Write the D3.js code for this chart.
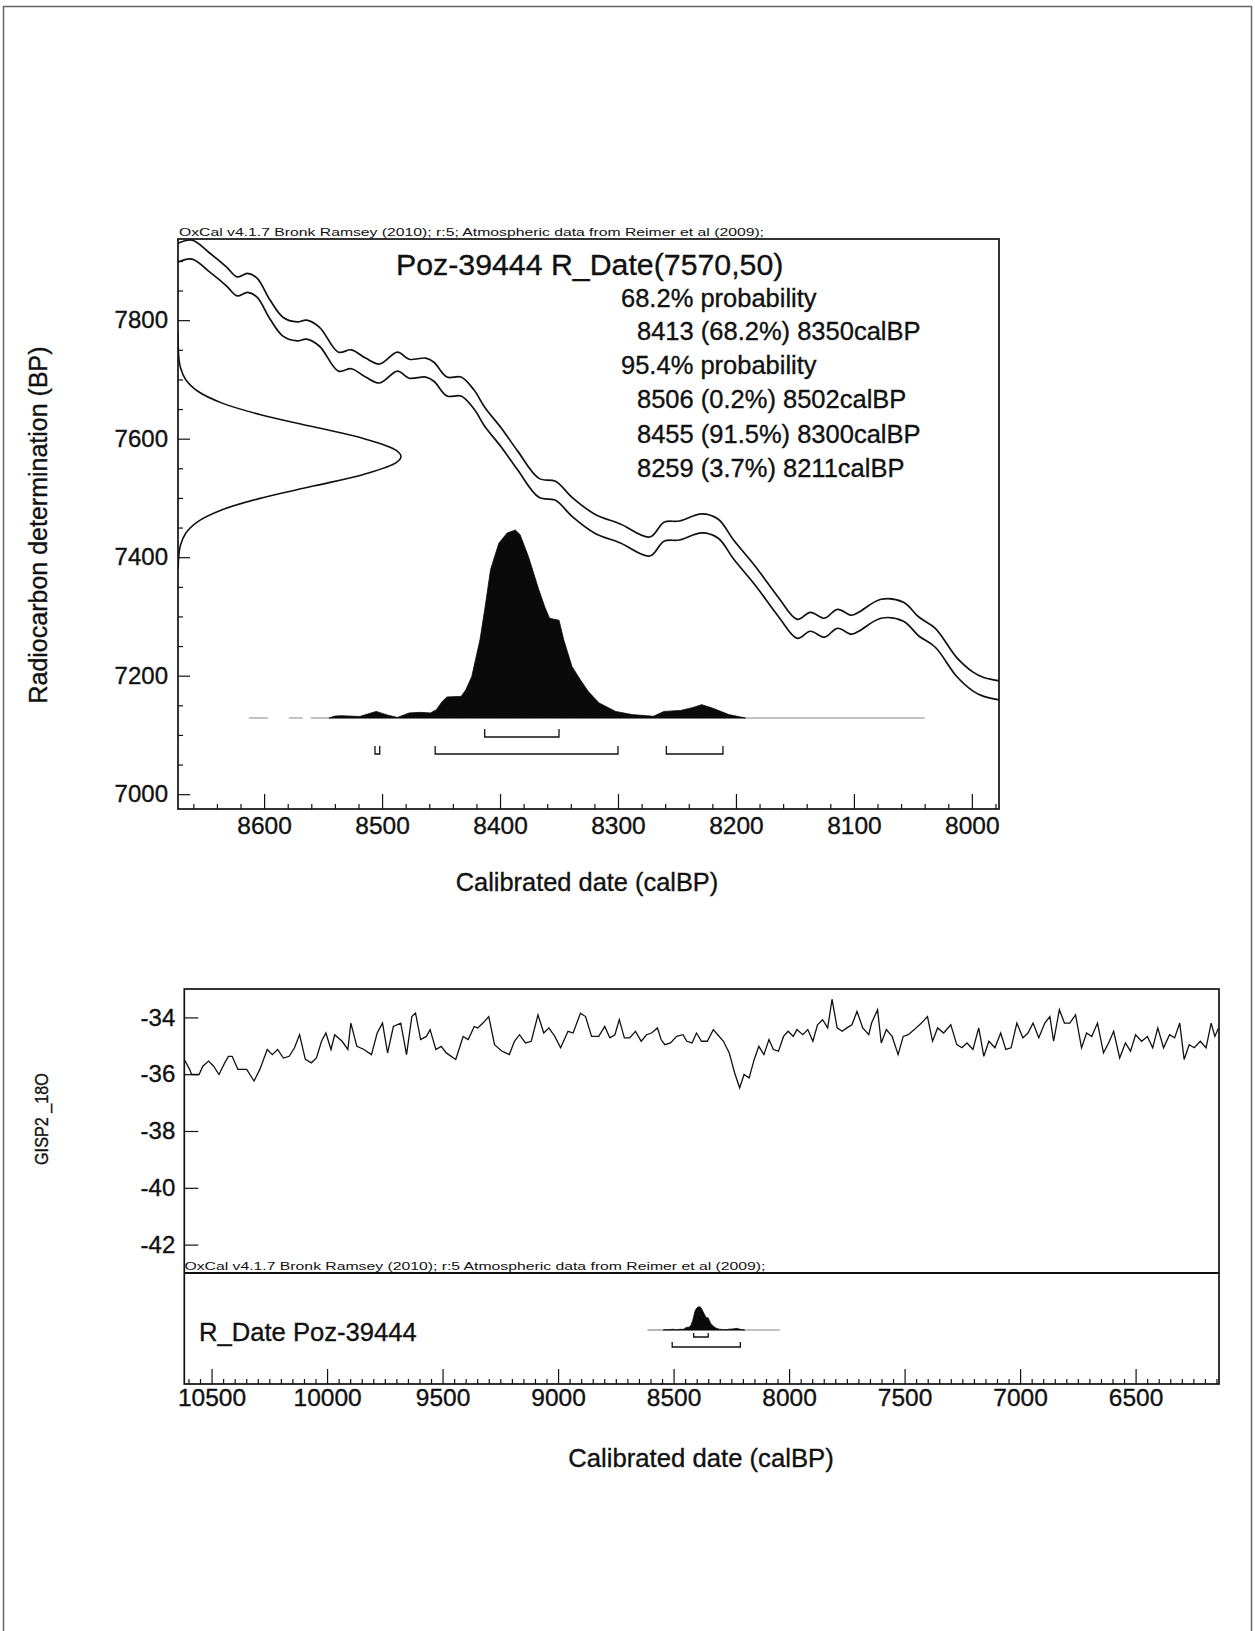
<!DOCTYPE html>
<html>
<head>
<meta charset="utf-8">
<script src="https://cdn.jsdelivr.net/npm/d3@7"></script>
<style>
  body { margin: 0; background: #fff; }
  text { font-family: "Liberation Sans", Arial, Helvetica, sans-serif; fill: #111; }
  .heavy { stroke: #111; stroke-width: 0.35px; }
</style>
</head>
<body>
<svg id="fig" width="1255" height="1631"></svg>
<script>
// ---- Calibration curve segment (cal BP, mean 14C BP, 1-sigma) ----
const curveCal = [8680, 8673, 8661, 8646, 8632, 8623, 8614, 8606, 8595, 8584, 8572, 8564, 8553, 8537, 8526, 8514, 8502, 8487, 8477, 8463, 8456, 8445, 8433, 8422, 8413, 8399, 8385, 8367, 8353, 8339, 8320, 8298, 8273, 8261, 8248, 8229, 8215, 8202, 8183, 8164, 8148, 8137, 8125, 8114, 8102, 8096, 8077, 8058, 8045, 8031, 8013, 7999, 7990, 7979, 7970];
const curveBP  = [7905, 7914, 7919, 7897, 7874, 7857, 7863, 7855, 7818, 7789, 7781, 7784, 7772, 7730, 7734, 7720, 7710, 7730, 7718, 7720, 7713, 7688, 7688, 7666, 7637, 7602, 7563, 7517, 7512, 7485, 7457, 7440, 7418, 7443, 7445, 7457, 7448, 7413, 7367, 7316, 7279, 7291, 7281, 7296, 7286, 7291, 7313, 7308, 7283, 7264, 7215, 7190, 7181, 7176, 7172];
const curveSigma = [16, 16, 16, 16, 16, 16, 16, 16, 16, 16, 16, 16, 16, 16, 16, 16, 16, 16, 16, 16, 16, 16, 16, 16, 16, 16, 16, 16, 16, 16, 16, 16, 16, 16, 16, 16, 16, 16, 16, 16, 16, 16, 16, 16, 16, 16, 16, 16, 16, 16, 16, 16, 16, 16, 16];

// ---- Radiocarbon measurement ----
const sampleName = "Poz-39444";
const dateBP = 7570;
const dateErr = 50;
// likelihood of the measurement, relative height at 14C BP
const likeBP = [7380, 7400, 7420, 7440, 7460, 7480, 7500, 7520, 7540, 7560, 7570, 7580, 7600, 7620, 7640, 7660, 7680, 7700, 7720, 7740, 7760, 7780];
const likeP  = [0.001, 0.003, 0.011, 0.034, 0.089, 0.198, 0.375, 0.607, 0.835, 0.980, 1.0, 0.980, 0.835, 0.607, 0.375, 0.198, 0.089, 0.034, 0.011, 0.003, 0.001, 0.0];

// ---- Calibrated probability distribution (relative) ----
const probCal = [8545, 8540, 8535, 8527, 8519, 8505, 8495, 8487, 8477, 8468, 8459, 8454, 8449, 8445, 8433, 8429, 8424, 8417, 8413, 8408, 8401, 8394, 8387, 8383, 8376, 8367, 8362, 8358, 8350, 8346, 8339, 8332, 8325, 8316, 8302, 8288, 8270, 8261, 8247, 8237, 8229, 8220, 8206, 8192];
const probP   = [0, 0.010, 0.012, 0.010, 0.008, 0.035, 0.015, 0.003, 0.027, 0.030, 0.027, 0.044, 0.088, 0.112, 0.115, 0.150, 0.220, 0.416, 0.576, 0.790, 0.930, 0.984, 1.0, 0.975, 0.860, 0.680, 0.590, 0.530, 0.520, 0.416, 0.274, 0.204, 0.140, 0.080, 0.035, 0.018, 0.009, 0.035, 0.040, 0.055, 0.071, 0.053, 0.018, 0];
const baselineCal = [8613, 8040];

// ---- Highest probability ranges ----
const ranges68 = [[8413, 8350]];
const ranges95 = [[8506, 8502], [8455, 8300], [8259, 8211]];
// overall 95.4% span as drawn in the compact strip
const span95 = [[8506, 8211]];
const summaryText = [
  "68.2% probability",
  "8413 (68.2%) 8350calBP",
  "95.4% probability",
  "8506 (0.2%) 8502calBP",
  "8455 (91.5%) 8300calBP",
  "8259 (3.7%) 8211calBP"
];

// ---- GISP2 delta 18O (per mil) against cal BP ----
const gispCal = [10618, 10595, 10586, 10554, 10538, 10513, 10491, 10468, 10443, 10427, 10411, 10386, 10364, 10348, 10316, 10291, 10259, 10237, 10214, 10189, 10164, 10141, 10119, 10094, 10068, 10046, 10024, 10005, 9983, 9967, 9935, 9910, 9897, 9871, 9840, 9808, 9783, 9760, 9738, 9713, 9681, 9656, 9633, 9617, 9595, 9570, 9554, 9529, 9506, 9484, 9443, 9411, 9389, 9363, 9348, 9325, 9300, 9275, 9243, 9211, 9189, 9167, 9141, 9116, 9087, 9062, 9040, 9014, 8989, 8957, 8935, 8903, 8881, 8855, 8824, 8798, 8776, 8754, 8735, 8713, 8690, 8665, 8640, 8617, 8595, 8570, 8554, 8538, 8513, 8487, 8459, 8443, 8420, 8401, 8379, 8354, 8328, 8309, 8284, 8259, 8236, 8214, 8195, 8173, 8151, 8131, 8109, 8087, 8068, 8046, 8024, 8004, 7982, 7966, 7941, 7919, 7897, 7877, 7855, 7833, 7814, 7792, 7770, 7750, 7728, 7706, 7681, 7655, 7643, 7617, 7601, 7579, 7554, 7528, 7506, 7484, 7458, 7427, 7401, 7379, 7357, 7331, 7300, 7274, 7252, 7230, 7204, 7179, 7157, 7135, 7109, 7084, 7062, 7039, 7014, 6988, 6966, 6944, 6919, 6893, 6871, 6855, 6830, 6808, 6785, 6760, 6734, 6712, 6690, 6665, 6639, 6617, 6595, 6569, 6544, 6522, 6500, 6474, 6449, 6426, 6404, 6379, 6353, 6331, 6309, 6290, 6268, 6246, 6220, 6195, 6173, 6157, 6141];
const gispD18O = [-35.48, -35.83, -36.01, -36.01, -35.72, -35.54, -35.72, -36.01, -35.60, -35.37, -35.37, -35.83, -35.83, -35.83, -36.24, -35.83, -35.13, -35.31, -35.13, -35.43, -35.37, -35.07, -34.61, -35.48, -35.60, -35.43, -34.84, -34.55, -35.13, -34.61, -34.84, -35.13, -34.20, -35.02, -35.13, -35.31, -34.55, -34.20, -35.25, -34.32, -34.20, -35.31, -33.97, -33.85, -34.78, -34.67, -34.43, -35.13, -35.02, -35.25, -35.48, -34.67, -34.78, -34.32, -34.37, -34.20, -33.97, -34.96, -35.19, -35.31, -34.84, -34.61, -34.90, -34.84, -33.91, -34.55, -34.37, -34.67, -35.07, -34.49, -34.55, -33.85, -33.97, -34.67, -34.67, -34.32, -34.72, -34.61, -34.08, -34.72, -34.72, -34.49, -34.84, -34.61, -34.55, -34.37, -34.78, -34.96, -34.90, -34.67, -34.61, -34.84, -34.90, -34.55, -34.84, -34.84, -34.43, -34.61, -34.84, -35.25, -35.95, -36.48, -36.01, -36.13, -35.48, -35.02, -35.31, -34.78, -35.13, -35.19, -34.67, -34.49, -34.67, -34.43, -34.61, -34.43, -34.84, -34.26, -34.08, -34.37, -33.36, -34.37, -34.49, -34.37, -34.26, -33.79, -34.37, -34.61, -34.20, -33.73, -34.90, -34.43, -34.67, -35.31, -34.67, -34.61, -34.43, -34.20, -33.97, -34.84, -34.37, -34.55, -34.26, -34.96, -35.07, -34.90, -35.13, -34.37, -35.37, -34.84, -35.07, -34.55, -35.13, -35.07, -34.20, -34.72, -34.55, -34.20, -34.72, -34.20, -33.97, -34.84, -33.73, -34.20, -34.20, -33.91, -35.07, -34.55, -34.67, -34.20, -35.25, -34.90, -34.49, -35.43, -34.90, -35.19, -34.61, -34.84, -34.67, -35.07, -34.37, -35.07, -34.61, -34.72, -34.20, -35.48, -34.96, -35.07, -34.84, -35.07, -34.20, -34.67, -34.37];

// ---- Axis ticks ----
const calTicksTop = [8600, 8500, 8400, 8300, 8200, 8100, 8000];
const bpTicks = [7000, 7200, 7400, 7600, 7800];
const calTicksBottom = [10500, 10000, 9500, 9000, 8500, 8000, 7500, 7000, 6500];
const d18OTicks = [-34, -36, -38, -40, -42];

const headerTop = "OxCal v4.1.7 Bronk Ramsey (2010); r:5; Atmospheric data from Reimer et al (2009);";
const headerBottom = "OxCal v4.1.7 Bronk Ramsey (2010); r:5 Atmospheric data from Reimer et al (2009);";

const svg = d3.select("#fig");
const plain = d => String(d);

// page border (open at the bottom)
svg.append("path").attr("d", "M3.5,1631V6.5H1251.5V1631")
  .attr("fill", "none").attr("stroke", "#666").attr("stroke-width", 1.5);

// ================= Calibration plot =================
const P1 = { left: 178, right: 999, top: 239, bottom: 809 };
const x1 = d3.scaleLinear().domain([8673, 7977]).range([P1.left, P1.right]);
const y1 = d3.scaleLinear().domain([6975, 7937]).range([P1.bottom, P1.top]);
const g1 = svg.append("g");

g1.append("clipPath").attr("id", "clip1").append("rect")
  .attr("x", P1.left).attr("y", P1.top).attr("width", P1.right - P1.left).attr("height", P1.bottom - P1.top);

const curvePts = curveCal.map((c, i) => ({ c, m: curveBP[i], s: curveSigma[i] }));
const bandLine = off => d3.line().x(d => x1(d.c)).y(d => y1(d.m + off * d.s)).curve(d3.curveCatmullRom.alpha(0.5));
[1, -1].forEach(k => {
  g1.append("path").datum(curvePts).attr("d", bandLine(k)).attr("clip-path", "url(#clip1)")
    .attr("fill", "none").attr("stroke", "#111").attr("stroke-width", 1.7);
});

// measurement likelihood on the BP axis
const xLike = d3.scaleLinear().domain([0, 1]).range([P1.left, 401]);
g1.append("path").datum(likeBP.map((b, i) => [b, likeP[i]]))
  .attr("d", d3.line().x(d => xLike(d[1])).y(d => y1(d[0])).curve(d3.curveCatmullRom))
  .attr("clip-path", "url(#clip1)")
  .attr("fill", "none").attr("stroke", "#111").attr("stroke-width", 1.6);

// calibrated distribution
const pScale1 = d3.scaleLinear().domain([0, 1]).range([718, 530]);
function drawDistribution(g, xs, ps, baseCal) {
  g.append("line").attr("x1", xs(probCal[0])).attr("x2", xs(baseCal[1]))
    .attr("y1", ps(0)).attr("y2", ps(0)).attr("stroke", "#888").attr("stroke-width", 1.2);
  g.append("line").attr("x1", xs(baseCal[0])).attr("x2", xs(probCal[0]))
    .attr("y1", ps(0)).attr("y2", ps(0)).attr("stroke", "#888").attr("stroke-width", 1.2)
    .attr("stroke-dasharray", "19,21,14,8,22");
  g.append("path").datum(probCal.map((c, i) => [c, probP[i]]))
    .attr("d", d3.area().x(d => xs(d[0])).y0(ps(0)).y1(d => ps(d[1])))
    .attr("fill", "#0a0a0a").attr("stroke", "#0a0a0a").attr("stroke-width", 0.8);
}
drawDistribution(g1, x1, pScale1, baselineCal);

function drawRanges(g, xs, list, y, tick) {
  list.forEach(r => {
    const a = xs(r[0]), b = xs(r[1]);
    g.append("path").attr("d", `M${a},${y - tick}V${y}H${b}V${y - tick}`)
      .attr("fill", "none").attr("stroke", "#111").attr("stroke-width", 1.3);
  });
}
drawRanges(g1, x1, ranges68, 737, 8);
drawRanges(g1, x1, ranges95, 754, 8);

// frame
g1.append("rect").attr("x", P1.left).attr("y", P1.top).attr("width", P1.right - P1.left).attr("height", P1.bottom - P1.top)
  .attr("fill", "none").attr("stroke", "#111").attr("stroke-width", 1.7);

// axes
const ax1 = g1.append("g").attr("transform", `translate(0,${P1.bottom})`)
  .call(d3.axisBottom(x1).tickValues(calTicksTop).tickSize(-15).tickPadding(8).tickFormat(plain));
const minorTop = d3.range(8660, 7977, -20).filter(v => v % 100 !== 0);
g1.append("g").attr("transform", `translate(0,${P1.bottom})`)
  .call(d3.axisBottom(x1).tickValues(minorTop).tickSize(-5).tickFormat(""));
const ay1 = g1.append("g").attr("transform", `translate(${P1.left},0)`)
  .call(d3.axisLeft(y1).tickValues(bpTicks).tickSize(-12).tickPadding(10).tickFormat(plain));
const minorBP = d3.range(7050, 7937, 50).filter(v => v % 200 !== 0);
g1.append("g").attr("transform", `translate(${P1.left},0)`)
  .call(d3.axisLeft(y1).tickValues(minorBP).tickSize(-5).tickFormat(""));

svg.selectAll(".domain").remove();
svg.selectAll(".tick line").attr("stroke", "#111").attr("stroke-width", 1.2);
ax1.selectAll("text").attr("font-size", 24.5).attr("fill", "#111").attr("class", "heavy");
ay1.selectAll("text").attr("font-size", 24).attr("fill", "#111").attr("class", "heavy");

// texts
g1.append("text").attr("x", 179).attr("y", 236).attr("font-size", 11.5)
  .attr("textLength", 585).attr("lengthAdjust", "spacingAndGlyphs").text(headerTop);
g1.append("text").attr("x", 396).attr("y", 275).attr("font-size", 30.3).attr("class", "heavy")
  .text(`${sampleName} R_Date(${dateBP},${dateErr})`);
const sumX = [621, 637, 621, 637, 637, 637];
const sumY = [307, 340, 374, 408, 443, 477];
summaryText.forEach((t, i) => {
  g1.append("text").attr("x", sumX[i]).attr("y", sumY[i]).attr("font-size", 25.5).attr("class", "heavy").text(t);
});
g1.append("text").attr("transform", "translate(47,525) rotate(-90)").attr("text-anchor", "middle")
  .attr("font-size", 25).attr("class", "heavy").text("Radiocarbon determination (BP)");
g1.append("text").attr("x", 587).attr("y", 891).attr("text-anchor", "middle")
  .attr("font-size", 25.4).attr("class", "heavy").text("Calibrated date (calBP)");

// ================= GISP2 + multi-plot =================
const P2 = { left: 184.3, right: 1219, top: 989, split: 1273, bottom: 1384 };
const x2 = d3.scaleLinear().domain([10618, 6139]).range([P2.left, P2.right]);
const y2 = d3.scaleLinear().domain([-43, -33]).range([P2.split, P2.top]);
const g2 = svg.append("g");

g2.append("clipPath").attr("id", "clip2").append("rect")
  .attr("x", P2.left).attr("y", P2.top).attr("width", P2.right - P2.left).attr("height", P2.split - P2.top);

g2.append("path").datum(gispCal.map((c, i) => [c, gispD18O[i]]))
  .attr("d", d3.line().x(d => x2(d[0])).y(d => y2(d[1])))
  .attr("clip-path", "url(#clip2)")
  .attr("fill", "none").attr("stroke", "#111").attr("stroke-width", 1.3);

// small distribution in the lower strip
const pScale2 = d3.scaleLinear().domain([0, 1]).range([1330, 1306.7]);
drawDistribution(g2, x2, pScale2, baselineCal);
drawRanges(g2, x2, ranges68, 1337, 4);
drawRanges(g2, x2, span95, 1347, 5);

g2.append("rect").attr("x", P2.left).attr("y", P2.top).attr("width", P2.right - P2.left).attr("height", P2.bottom - P2.top)
  .attr("fill", "none").attr("stroke", "#111").attr("stroke-width", 1.7);
g2.append("line").attr("x1", P2.left).attr("x2", P2.right).attr("y1", P2.split).attr("y2", P2.split)
  .attr("stroke", "#111").attr("stroke-width", 2.2);

const ax2 = g2.append("g").attr("transform", `translate(0,${P2.bottom})`)
  .call(d3.axisBottom(x2).tickValues(calTicksBottom).tickSize(-15).tickPadding(5).tickFormat(plain));
const minorBottom = d3.range(10600, 6139, -50).filter(v => v % 500 !== 0);
g2.append("g").attr("transform", `translate(0,${P2.bottom})`)
  .call(d3.axisBottom(x2).tickValues(minorBottom).tickSize(-5).tickFormat(""));
const ay2 = g2.append("g").attr("transform", `translate(${P2.left},0)`)
  .call(d3.axisLeft(y2).tickValues(d18OTicks).tickSize(-14).tickPadding(9).tickFormat(plain));

svg.selectAll(".domain").remove();
svg.selectAll(".tick line").attr("stroke", "#111").attr("stroke-width", 1.2);
ax2.selectAll("text").attr("font-size", 24.5).attr("fill", "#111").attr("class", "heavy");
ay2.selectAll("text").attr("font-size", 24).attr("fill", "#111").attr("class", "heavy");

g2.append("text").attr("x", 184.5).attr("y", 1270).attr("font-size", 11.5)
  .attr("textLength", 581).attr("lengthAdjust", "spacingAndGlyphs").text(headerBottom);
g2.append("text").attr("x", 199).attr("y", 1341).attr("font-size", 25.6).attr("class", "heavy").text(`R_Date ${sampleName}`);
g2.append("text").attr("transform", "translate(48,1119) rotate(-90)").attr("text-anchor", "middle")
  .attr("font-size", 19).attr("textLength", 92).attr("lengthAdjust", "spacingAndGlyphs")
  .attr("class", "heavy").text("GISP2 _18O");
g2.append("text").attr("x", 701).attr("y", 1467).attr("text-anchor", "middle")
  .attr("font-size", 25.7).attr("class", "heavy").text("Calibrated date (calBP)");
</script>
</body>
</html>
